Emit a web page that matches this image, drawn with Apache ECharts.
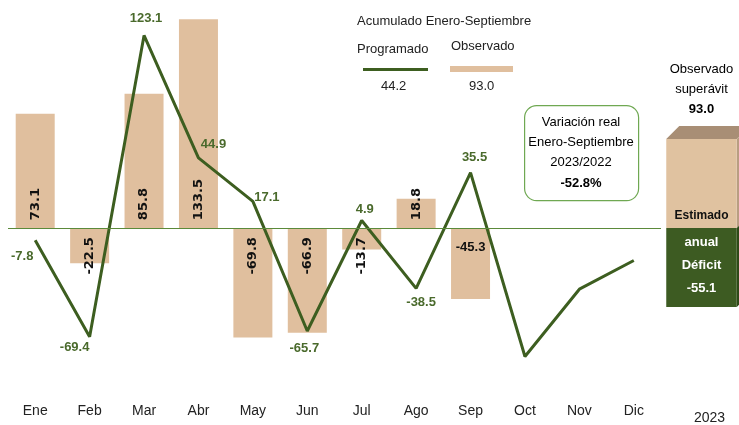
<!DOCTYPE html>
<html>
<head>
<meta charset="utf-8">
<script src="https://cdn.jsdelivr.net/npm/echarts@6/dist/echarts.min.js"></script>
<style>
    html, body { margin: 0; padding: 0; background: #fff; }
    #chart { width: 739px; height: 425px; }
</style>
</head>
<body>
<div id="chart"></div>
<script>
const months = ["Ene", "Feb", "Mar", "Abr", "May", "Jun", "Jul", "Ago", "Sep", "Oct", "Nov", "Dic"]
const observado = [73.1, -22.5, 85.8, 133.5, -69.8, -66.9, -13.7, 18.8, -45.3]
const programado = [-7.8, -69.4, 123.1, 44.9, 17.1, -65.7, 4.9, -38.5, 35.5, -82.0, -39.0, -20.7]
const programadoShown = [true, true, true, true, true, true, true, true, true, false, false, false]

const acumProgramado = 44.2
const acumObservado = 93.0
const variacionReal = -52.8

const yearLabel = ["2023"]
const superavitObservado = [93.0]
const deficitEstimado = [-55.1]

const GREEN = "#3d5e20"
const LABEL_GREEN = "#4a6a2c"
const TAN = "#e0bf9e"
const FONT = "'Liberation Sans', Arial, sans-serif"

// where each line label sits around its point (dx, dy)
const lineLabelOffsets = [[-13, 16], [-15, 11], [2, -17], [15, -13], [14, -4], [-3, 17], [3, -11], [5, 14], [4, -15], [0, 0], [0, 0], [0, 0]]

const chart = echarts.init(document.getElementById("chart"))

const barData = observado.map((v, i) => {
    let label
    if (months[i] === "Sep") {
        label = { position: "insideTop", rotate: 0, align: "center", verticalAlign: "top", distance: 13, fontFamily: FONT, fontSize: 13 }
    } else if (v >= 0) {
        label = { position: "insideBottom", rotate: 90, align: "left", verticalAlign: "middle", distance: 8 }
    } else {
        label = { position: "insideTop", rotate: 90, align: "right", verticalAlign: "middle", distance: 9 }
    }
    return { value: v, label }
})

const lineData = programado.map((v, i) => ({
    value: v,
    label: {
        show: programadoShown[i],
        position: "inside",
        offset: lineLabelOffsets[i]
    }
}))

const box = (withHeader) => (params, api) => {
    const v = api.value(1)
    const base = api.coord([api.value(0), 0])
    const end = api.coord([api.value(0), v])
    const w = api.size([1, 0])[0] * 0.94
    const left = base[0] - w / 2
    const right = base[0] + w / 2
    const top = Math.min(base[1], end[1])
    const bottom = Math.max(base[1], end[1])
    const d = 13
    const cx = base[0]
    const children = []
    if (withHeader) {
        children.push({
            type: "polygon",
            shape: { points: [[left, top], [left + d, top - d], [right + d, top - d], [right, top]] },
            style: { fill: "#a88e75" }
        })
        children.push({
            type: "polygon",
            shape: { points: [[right, top], [right + d, top - d], [right + d, bottom - d], [right, bottom]] },
            style: { fill: "#b99e82" }
        })
        children.push({
            type: "rect",
            shape: { x: left, y: top, width: w, height: bottom - top },
            style: { fill: "#e0c2a0" }
        })
        children.push({
            type: "text",
            style: {
                x: cx, y: top - d - 6,
                text: "{a|Observado}\n{a|superávit}\n{b|" + v.toFixed(1) + "}",
                align: "center", verticalAlign: "bottom",
                rich: {
                    a: { fontFamily: FONT, fontSize: 13, color: "#222", lineHeight: 20 },
                    b: { fontFamily: FONT, fontSize: 13, fontWeight: "bold", color: "#111", lineHeight: 21 }
                }
            }
        })
        children.push({
            type: "text",
            style: {
                x: cx, y: bottom - 12, text: "Estimado",
                align: "center", verticalAlign: "middle",
                fontFamily: FONT, fontSize: 12, fontWeight: "bold", fill: "#111"
            }
        })
    } else {
        children.push({
            type: "polygon",
            shape: { points: [[right, top], [right + d, top - d], [right + d, bottom - d], [right, bottom]] },
            style: { fill: "#2f4a18" }
        })
        children.push({
            type: "rect",
            shape: { x: left, y: top, width: w, height: bottom - top },
            style: { fill: "#3d5b22" }
        })
        children.push({
            type: "text",
            style: {
                x: cx, y: top + 3,
                text: "anual\nDéficit\n" + v.toFixed(1),
                align: "center", verticalAlign: "top", lineHeight: 23,
                fontFamily: FONT, fontSize: 13, fontWeight: "bold", fill: "#fff"
            }
        })
    }
    return { type: "group", children }
}

const option = {
    animation: false,
    textStyle: { fontFamily: FONT },
    grid: [
        { left: 8, right: 78, top: 9, height: 386 },
        { left: 664, width: 75, top: 9, height: 386 }
    ],
    xAxis: [
        {
            type: "category", gridIndex: 0, data: months,
            axisLine: { show: false }, axisTick: { show: false },
            axisLabel: { color: "#222", fontSize: 14, fontFamily: FONT, margin: 9 }
        },
        {
            type: "category", gridIndex: 1, data: yearLabel,
            axisLine: { show: false }, axisTick: { show: false },
            axisLabel: { color: "#222", fontSize: 14, fontFamily: FONT, margin: 16, padding: [0, 0, 0, 16] }
        }
    ],
    yAxis: [
        { type: "value", gridIndex: 0, min: -106.6, max: 140, show: false },
        { type: "value", gridIndex: 1, min: -174.5, max: 228.8, show: false },
        { type: "value", gridIndex: 1, min: -116.5, max: 152.7, show: false }
    ],
    graphic: [
        { type: "text", left: 357, top: 15, style: { text: "Acumulado Enero-Septiembre", fontFamily: FONT, fontSize: 13, fill: "#222" } },
        { type: "text", left: 357, top: 43, style: { text: "Programado", fontFamily: FONT, fontSize: 13, fill: "#222" } },
        { type: "text", left: 451, top: 40, style: { text: "Observado", fontFamily: FONT, fontSize: 13, fill: "#222" } },
        { type: "rect", left: 363, top: 68, shape: { width: 65, height: 3 }, style: { fill: GREEN } },
        { type: "rect", left: 450, top: 66, shape: { width: 63, height: 6 }, style: { fill: TAN } },
        { type: "text", left: 381, top: 80, style: { text: acumProgramado.toFixed(1), fontFamily: FONT, fontSize: 13, fill: "#222" } },
        { type: "text", left: 469, top: 80, style: { text: acumObservado.toFixed(1), fontFamily: FONT, fontSize: 13, fill: "#222" } },
        {
            type: "rect", left: 524, top: 105,
            shape: { width: 114, height: 95, r: 12 },
            style: { fill: "#fff", stroke: "#6fa852", lineWidth: 1.2 }
        },
        {
            type: "text", left: 525, top: 116,
            style: {
                text: "{a|Variación real}\n{a|Enero-Septiembre}\n{a|2023/2022}\n{b|" + variacionReal.toFixed(1) + "%}",
                width: 112, align: "center",
                rich: {
                    a: { fontFamily: FONT, fontSize: 13, color: "#222", lineHeight: 20, width: 112, align: "center" },
                    b: { fontFamily: FONT, fontSize: 13, fontWeight: "bold", color: "#111", lineHeight: 21, width: 112, align: "center" }
                }
            }
        }
    ],
    series: [
        {
            name: "Observado", type: "bar", xAxisIndex: 0, yAxisIndex: 0,
            data: barData, barWidth: 39,
            itemStyle: { color: TAN },
            label: { show: true, color: "#111", fontWeight: "bold", fontSize: 13, fontFamily: "'DejaVu Sans', sans-serif", formatter: p => p.value.toFixed(1) },
            markLine: {
                silent: true, symbol: "none", label: { show: false },
                lineStyle: { color: "#5b8a3a", width: 1.2, type: "solid" },
                data: [{ yAxis: 0 }]
            },
            z: 1
        },
        {
            name: "Programado", type: "line", xAxisIndex: 0, yAxisIndex: 0,
            data: lineData, symbol: "circle", symbolSize: 0, showSymbol: true,
            lineStyle: { color: GREEN, width: 3 },
            itemStyle: { color: GREEN },
            label: { color: LABEL_GREEN, fontWeight: "bold", fontSize: 13, fontFamily: FONT, formatter: p => p.value.toFixed(1) },
            z: 3
        },
        {
            name: "Superávit", type: "custom", xAxisIndex: 1, yAxisIndex: 1,
            renderItem: box(true),
            data: superavitObservado.map((v, i) => [i, v])
        },
        {
            name: "Déficit", type: "custom", xAxisIndex: 1, yAxisIndex: 2,
            renderItem: box(false),
            data: deficitEstimado.map((v, i) => [i, v])
        }
    ]
}

chart.setOption(option)
window.addEventListener("resize", () => chart.resize())
</script>
</body>
</html>
